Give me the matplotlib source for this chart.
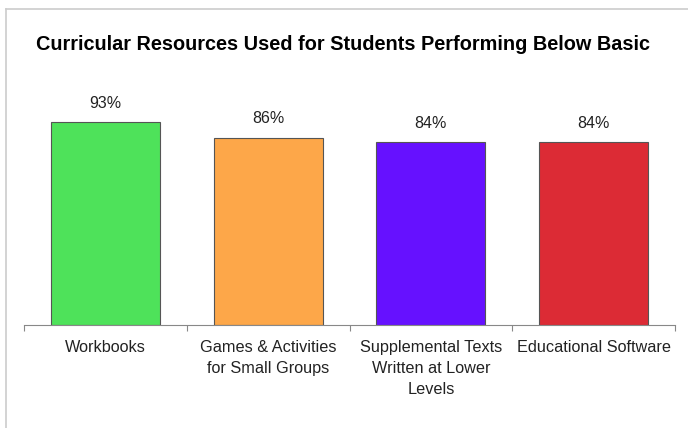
import matplotlib.pyplot as plt
from matplotlib.lines import Line2D

categories = ['Workbooks', 'Games & Activities\nfor Small Groups',
              'Supplemental Texts\nWritten at Lower\nLevels', 'Educational Software']
values = [93, 86, 84, 84]
labels = ['93%', '86%', '84%', '84%']
colors = ['#4EE25A', '#FDA749', '#6611FF', '#DC2B35']

fig = plt.figure(figsize=(6.88, 4.28), dpi=100)
ax = fig.add_axes([0.035, 0.2407, 0.946, 0.5093])

x = range(len(categories))
bars = ax.bar(x, values, width=0.67, color=colors, edgecolor='#555555', linewidth=0.8)

for b, lab in zip(bars, labels):
    ax.annotate(lab, (b.get_x() + b.get_width() / 2, b.get_height()),
                xytext=(0, 8), textcoords='offset points', ha='center', va='bottom',
                fontsize=11.5, color='#222222', family=['Liberation Sans', 'DejaVu Sans'])

ax.set_xlim(-0.5, len(categories) - 0.5)
ax.set_ylim(0, 100)
ax.set_yticks([])
for s in ['top', 'right', 'left']:
    ax.spines[s].set_visible(False)
ax.spines['bottom'].set_color('#888888')

# category ticks sit between bars
ax.set_xticks([i - 0.5 for i in range(len(categories) + 1)])
ax.set_xticklabels([])
ax.tick_params(axis='x', direction='out', length=4, color='#888888')
for i, c in enumerate(categories):
    ax.annotate(c, (i, 0), xytext=(0, -11), textcoords='offset points',
                ha='center', va='top', fontsize=11.7, color='#222222',
                linespacing=1.5, family=['Liberation Sans', 'DejaVu Sans'])

fig.text(0.499, 0.897, 'Curricular Resources Used for Students Performing Below Basic',
         ha='center', va='center', fontsize=14.3, fontweight='bold',
         family=['Liberation Sans', 'DejaVu Sans'])

# light frame on top and left
fig.add_artist(Line2D([0.008, 1.0], [0.978, 0.978], transform=fig.transFigure,
                      color='#cccccc', linewidth=1.2))
fig.add_artist(Line2D([0.008, 0.008], [0.0, 0.978], transform=fig.transFigure,
                      color='#cccccc', linewidth=1.2))

fig.savefig('out.png', dpi=100)
